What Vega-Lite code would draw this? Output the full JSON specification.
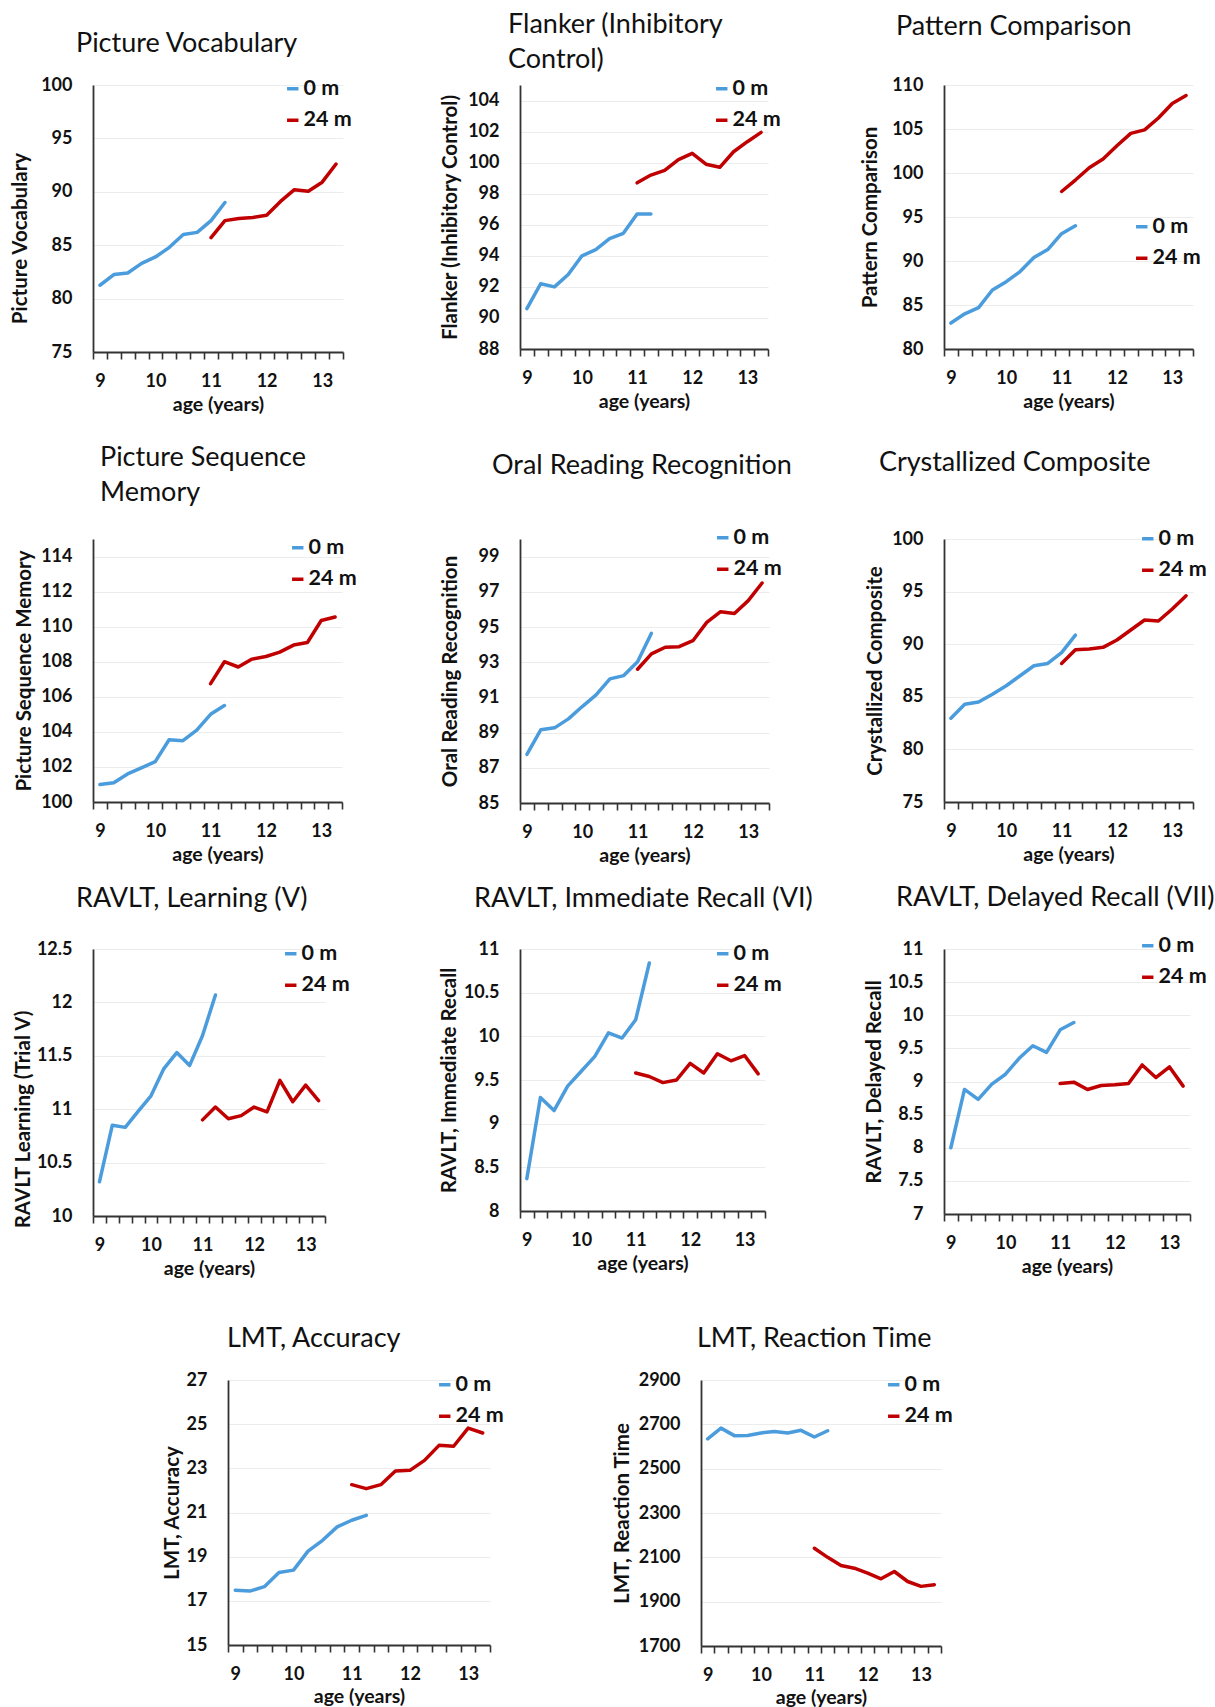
{
"$schema": "https://vega.github.io/schema/vega-lite/v6.json",
"padding": 0,
"background": "white",
"datasets": {"scores": [
{"test":"PV","wave":"0 m","age":9,"score":81.25},{"test":"PV","wave":"0 m","age":9.25,"score":82.25},{"test":"PV","wave":"0 m","age":9.5,"score":82.4},{"test":"PV","wave":"0 m","age":9.75,"score":83.3},{"test":"PV","wave":"0 m","age":10,"score":83.9},{"test":"PV","wave":"0 m","age":10.25,"score":84.8},{"test":"PV","wave":"0 m","age":10.5,"score":86.0},{"test":"PV","wave":"0 m","age":10.75,"score":86.2},{"test":"PV","wave":"0 m","age":11,"score":87.3},{"test":"PV","wave":"0 m","age":11.25,"score":89.0},
{"test":"PV","wave":"24 m","age":11,"score":85.7},{"test":"PV","wave":"24 m","age":11.25,"score":87.3},{"test":"PV","wave":"24 m","age":11.5,"score":87.5},{"test":"PV","wave":"24 m","age":11.75,"score":87.6},{"test":"PV","wave":"24 m","age":12,"score":87.8},{"test":"PV","wave":"24 m","age":12.25,"score":89.1},{"test":"PV","wave":"24 m","age":12.5,"score":90.2},{"test":"PV","wave":"24 m","age":12.75,"score":90.05},{"test":"PV","wave":"24 m","age":13,"score":90.9},{"test":"PV","wave":"24 m","age":13.25,"score":92.6},
{"test":"FL","wave":"0 m","age":9,"score":90.6},{"test":"FL","wave":"0 m","age":9.25,"score":92.2},{"test":"FL","wave":"0 m","age":9.5,"score":92.0},{"test":"FL","wave":"0 m","age":9.75,"score":92.8},{"test":"FL","wave":"0 m","age":10,"score":94.0},{"test":"FL","wave":"0 m","age":10.25,"score":94.4},{"test":"FL","wave":"0 m","age":10.5,"score":95.1},{"test":"FL","wave":"0 m","age":10.75,"score":95.45},{"test":"FL","wave":"0 m","age":11,"score":96.7},{"test":"FL","wave":"0 m","age":11.25,"score":96.7},
{"test":"FL","wave":"24 m","age":11,"score":98.7},{"test":"FL","wave":"24 m","age":11.25,"score":99.2},{"test":"FL","wave":"24 m","age":11.5,"score":99.5},{"test":"FL","wave":"24 m","age":11.75,"score":100.2},{"test":"FL","wave":"24 m","age":12,"score":100.6},{"test":"FL","wave":"24 m","age":12.25,"score":99.9},{"test":"FL","wave":"24 m","age":12.5,"score":99.7},{"test":"FL","wave":"24 m","age":12.75,"score":100.7},{"test":"FL","wave":"24 m","age":13,"score":101.35},{"test":"FL","wave":"24 m","age":13.25,"score":101.95},
{"test":"PC","wave":"0 m","age":9,"score":82.95},{"test":"PC","wave":"0 m","age":9.25,"score":84.0},{"test":"PC","wave":"0 m","age":9.5,"score":84.7},{"test":"PC","wave":"0 m","age":9.75,"score":86.7},{"test":"PC","wave":"0 m","age":10,"score":87.65},{"test":"PC","wave":"0 m","age":10.25,"score":88.8},{"test":"PC","wave":"0 m","age":10.5,"score":90.4},{"test":"PC","wave":"0 m","age":10.75,"score":91.3},{"test":"PC","wave":"0 m","age":11,"score":93.1},{"test":"PC","wave":"0 m","age":11.25,"score":94.0},
{"test":"PC","wave":"24 m","age":11,"score":97.9},{"test":"PC","wave":"24 m","age":11.25,"score":99.2},{"test":"PC","wave":"24 m","age":11.5,"score":100.6},{"test":"PC","wave":"24 m","age":11.75,"score":101.6},{"test":"PC","wave":"24 m","age":12,"score":103.1},{"test":"PC","wave":"24 m","age":12.25,"score":104.5},{"test":"PC","wave":"24 m","age":12.5,"score":104.9},{"test":"PC","wave":"24 m","age":12.75,"score":106.25},{"test":"PC","wave":"24 m","age":13,"score":107.9},{"test":"PC","wave":"24 m","age":13.25,"score":108.8},
{"test":"PSM","wave":"0 m","age":9,"score":101.0},{"test":"PSM","wave":"0 m","age":9.25,"score":101.1},{"test":"PSM","wave":"0 m","age":9.5,"score":101.6},{"test":"PSM","wave":"0 m","age":9.75,"score":101.95},{"test":"PSM","wave":"0 m","age":10,"score":102.3},{"test":"PSM","wave":"0 m","age":10.25,"score":103.55},{"test":"PSM","wave":"0 m","age":10.5,"score":103.5},{"test":"PSM","wave":"0 m","age":10.75,"score":104.1},{"test":"PSM","wave":"0 m","age":11,"score":105.0},{"test":"PSM","wave":"0 m","age":11.25,"score":105.5},
{"test":"PSM","wave":"24 m","age":11,"score":106.75},{"test":"PSM","wave":"24 m","age":11.25,"score":108.0},{"test":"PSM","wave":"24 m","age":11.5,"score":107.7},{"test":"PSM","wave":"24 m","age":11.75,"score":108.15},{"test":"PSM","wave":"24 m","age":12,"score":108.3},{"test":"PSM","wave":"24 m","age":12.25,"score":108.55},{"test":"PSM","wave":"24 m","age":12.5,"score":108.95},{"test":"PSM","wave":"24 m","age":12.75,"score":109.1},{"test":"PSM","wave":"24 m","age":13,"score":110.35},{"test":"PSM","wave":"24 m","age":13.25,"score":110.55},
{"test":"ORR","wave":"0 m","age":9,"score":87.76},{"test":"ORR","wave":"0 m","age":9.25,"score":89.16},{"test":"ORR","wave":"0 m","age":9.5,"score":89.27},{"test":"ORR","wave":"0 m","age":9.75,"score":89.78},{"test":"ORR","wave":"0 m","age":10,"score":90.48},{"test":"ORR","wave":"0 m","age":10.25,"score":91.14},{"test":"ORR","wave":"0 m","age":10.5,"score":92.05},{"test":"ORR","wave":"0 m","age":10.75,"score":92.24},{"test":"ORR","wave":"0 m","age":11,"score":93.03},{"test":"ORR","wave":"0 m","age":11.25,"score":94.64},
{"test":"ORR","wave":"24 m","age":11,"score":92.6},{"test":"ORR","wave":"24 m","age":11.25,"score":93.47},{"test":"ORR","wave":"24 m","age":11.5,"score":93.85},{"test":"ORR","wave":"24 m","age":11.75,"score":93.88},{"test":"ORR","wave":"24 m","age":12,"score":94.22},{"test":"ORR","wave":"24 m","age":12.25,"score":95.26},{"test":"ORR","wave":"24 m","age":12.5,"score":95.87},{"test":"ORR","wave":"24 m","age":12.75,"score":95.77},{"test":"ORR","wave":"24 m","age":13,"score":96.5},{"test":"ORR","wave":"24 m","age":13.25,"score":97.5},
{"test":"CC","wave":"0 m","age":9,"score":82.97},{"test":"CC","wave":"0 m","age":9.25,"score":84.3},{"test":"CC","wave":"0 m","age":9.5,"score":84.5},{"test":"CC","wave":"0 m","age":9.75,"score":85.25},{"test":"CC","wave":"0 m","age":10,"score":86.05},{"test":"CC","wave":"0 m","age":10.25,"score":87.0},{"test":"CC","wave":"0 m","age":10.5,"score":87.95},{"test":"CC","wave":"0 m","age":10.75,"score":88.17},{"test":"CC","wave":"0 m","age":11,"score":89.2},{"test":"CC","wave":"0 m","age":11.25,"score":90.87},
{"test":"CC","wave":"24 m","age":11,"score":88.17},{"test":"CC","wave":"24 m","age":11.25,"score":89.48},{"test":"CC","wave":"24 m","age":11.5,"score":89.54},{"test":"CC","wave":"24 m","age":11.75,"score":89.7},{"test":"CC","wave":"24 m","age":12,"score":90.4},{"test":"CC","wave":"24 m","age":12.25,"score":91.35},{"test":"CC","wave":"24 m","age":12.5,"score":92.3},{"test":"CC","wave":"24 m","age":12.75,"score":92.2},{"test":"CC","wave":"24 m","age":13,"score":93.35},{"test":"CC","wave":"24 m","age":13.25,"score":94.6},
{"test":"RL","wave":"0 m","age":9,"score":10.32},{"test":"RL","wave":"0 m","age":9.25,"score":10.85},{"test":"RL","wave":"0 m","age":9.5,"score":10.83},{"test":"RL","wave":"0 m","age":9.75,"score":10.98},{"test":"RL","wave":"0 m","age":10,"score":11.125},{"test":"RL","wave":"0 m","age":10.25,"score":11.38},{"test":"RL","wave":"0 m","age":10.5,"score":11.53},{"test":"RL","wave":"0 m","age":10.75,"score":11.41},{"test":"RL","wave":"0 m","age":11,"score":11.69},{"test":"RL","wave":"0 m","age":11.25,"score":12.07},
{"test":"RL","wave":"24 m","age":11,"score":10.9},{"test":"RL","wave":"24 m","age":11.25,"score":11.02},{"test":"RL","wave":"24 m","age":11.5,"score":10.91},{"test":"RL","wave":"24 m","age":11.75,"score":10.94},{"test":"RL","wave":"24 m","age":12,"score":11.02},{"test":"RL","wave":"24 m","age":12.25,"score":10.975},{"test":"RL","wave":"24 m","age":12.5,"score":11.27},{"test":"RL","wave":"24 m","age":12.75,"score":11.07},{"test":"RL","wave":"24 m","age":13,"score":11.225},{"test":"RL","wave":"24 m","age":13.25,"score":11.08},
{"test":"RI","wave":"0 m","age":9,"score":8.37},{"test":"RI","wave":"0 m","age":9.25,"score":9.3},{"test":"RI","wave":"0 m","age":9.5,"score":9.15},{"test":"RI","wave":"0 m","age":9.75,"score":9.43},{"test":"RI","wave":"0 m","age":10,"score":9.6},{"test":"RI","wave":"0 m","age":10.25,"score":9.77},{"test":"RI","wave":"0 m","age":10.5,"score":10.04},{"test":"RI","wave":"0 m","age":10.75,"score":9.98},{"test":"RI","wave":"0 m","age":11,"score":10.19},{"test":"RI","wave":"0 m","age":11.25,"score":10.84},
{"test":"RI","wave":"24 m","age":11,"score":9.58},{"test":"RI","wave":"24 m","age":11.25,"score":9.54},{"test":"RI","wave":"24 m","age":11.5,"score":9.47},{"test":"RI","wave":"24 m","age":11.75,"score":9.5},{"test":"RI","wave":"24 m","age":12,"score":9.69},{"test":"RI","wave":"24 m","age":12.25,"score":9.58},{"test":"RI","wave":"24 m","age":12.5,"score":9.8},{"test":"RI","wave":"24 m","age":12.75,"score":9.72},{"test":"RI","wave":"24 m","age":13,"score":9.78},{"test":"RI","wave":"24 m","age":13.25,"score":9.57},
{"test":"RD","wave":"0 m","age":9,"score":8.0},{"test":"RD","wave":"0 m","age":9.25,"score":8.88},{"test":"RD","wave":"0 m","age":9.5,"score":8.73},{"test":"RD","wave":"0 m","age":9.75,"score":8.96},{"test":"RD","wave":"0 m","age":10,"score":9.11},{"test":"RD","wave":"0 m","age":10.25,"score":9.35},{"test":"RD","wave":"0 m","age":10.5,"score":9.54},{"test":"RD","wave":"0 m","age":10.75,"score":9.44},{"test":"RD","wave":"0 m","age":11,"score":9.78},{"test":"RD","wave":"0 m","age":11.25,"score":9.89},
{"test":"RD","wave":"24 m","age":11,"score":8.97},{"test":"RD","wave":"24 m","age":11.25,"score":8.99},{"test":"RD","wave":"24 m","age":11.5,"score":8.88},{"test":"RD","wave":"24 m","age":11.75,"score":8.94},{"test":"RD","wave":"24 m","age":12,"score":8.95},{"test":"RD","wave":"24 m","age":12.25,"score":8.97},{"test":"RD","wave":"24 m","age":12.5,"score":9.25},{"test":"RD","wave":"24 m","age":12.75,"score":9.06},{"test":"RD","wave":"24 m","age":13,"score":9.22},{"test":"RD","wave":"24 m","age":13.25,"score":8.93},
{"test":"LA","wave":"0 m","age":9,"score":17.48},{"test":"LA","wave":"0 m","age":9.25,"score":17.44},{"test":"LA","wave":"0 m","age":9.5,"score":17.64},{"test":"LA","wave":"0 m","age":9.75,"score":18.28},{"test":"LA","wave":"0 m","age":10,"score":18.39},{"test":"LA","wave":"0 m","age":10.25,"score":19.25},{"test":"LA","wave":"0 m","age":10.5,"score":19.74},{"test":"LA","wave":"0 m","age":10.75,"score":20.35},{"test":"LA","wave":"0 m","age":11,"score":20.65},{"test":"LA","wave":"0 m","age":11.25,"score":20.87},
{"test":"LA","wave":"24 m","age":11,"score":22.26},{"test":"LA","wave":"24 m","age":11.25,"score":22.08},{"test":"LA","wave":"24 m","age":11.5,"score":22.26},{"test":"LA","wave":"24 m","age":11.75,"score":22.88},{"test":"LA","wave":"24 m","age":12,"score":22.91},{"test":"LA","wave":"24 m","age":12.25,"score":23.36},{"test":"LA","wave":"24 m","age":12.5,"score":24.04},{"test":"LA","wave":"24 m","age":12.75,"score":24.0},{"test":"LA","wave":"24 m","age":13,"score":24.82},{"test":"LA","wave":"24 m","age":13.25,"score":24.6},
{"test":"LRT","wave":"0 m","age":9,"score":2634},{"test":"LRT","wave":"0 m","age":9.25,"score":2683},{"test":"LRT","wave":"0 m","age":9.5,"score":2649},{"test":"LRT","wave":"0 m","age":9.75,"score":2650},{"test":"LRT","wave":"0 m","age":10,"score":2661},{"test":"LRT","wave":"0 m","age":10.25,"score":2668},{"test":"LRT","wave":"0 m","age":10.5,"score":2661},{"test":"LRT","wave":"0 m","age":10.75,"score":2673},{"test":"LRT","wave":"0 m","age":11,"score":2643},{"test":"LRT","wave":"0 m","age":11.25,"score":2671},
{"test":"LRT","wave":"24 m","age":11,"score":2141},{"test":"LRT","wave":"24 m","age":11.25,"score":2100},{"test":"LRT","wave":"24 m","age":11.5,"score":2063},{"test":"LRT","wave":"24 m","age":11.75,"score":2051},{"test":"LRT","wave":"24 m","age":12,"score":2029},{"test":"LRT","wave":"24 m","age":12.25,"score":2003},{"test":"LRT","wave":"24 m","age":12.5,"score":2036},{"test":"LRT","wave":"24 m","age":12.75,"score":1991},{"test":"LRT","wave":"24 m","age":13,"score":1969},{"test":"LRT","wave":"24 m","age":13.25,"score":1976}
]},
"spacing": 0,
"resolve": {"scale": {"color": "independent"}, "legend": {"color": "independent"}},
"vconcat": [
{
"columns": 6,
"bounds": "flush",
"spacing": 0,
"resolve": {"scale": {"x": "independent", "y": "independent", "color": "independent"}, "legend": {"color": "independent"}, "axis": {"x": "independent", "y": "independent"}},
"concat": [
{"width": 1, "height": 85, "data": {"values": []}, "mark": "point", "encoding": {}},
{"width": 1, "height": 1, "data": {"values": []}, "mark": "point", "encoding": {}},
{"width": 1, "height": 1, "data": {"values": []}, "mark": "point", "encoding": {}},
{"width": 1, "height": 1, "data": {"values": []}, "mark": "point", "encoding": {}},
{"width": 1, "height": 1, "data": {"values": []}, "mark": "point", "encoding": {}},
{"width": 1, "height": 1, "data": {"values": []}, "mark": "point", "encoding": {}},

{"width": 93, "height": 1, "data": {"values": []}, "mark": "point", "encoding": {}},
{"width": 250, "height": 267, "data": {"name": "scores"}, "transform": [{"filter": "datum.test == 'PV'"}],
 "title": {"text": "Picture Vocabulary", "dx": -17, "dy": -14},
 "mark": {"type": "line"},
 "encoding": {
  "x": {"field": "age", "type": "quantitative", "scale": {"domain": [8.875, 13.375], "nice": false, "zero": false}, "axis": {"values": [8.875,9.125,9.375,9.625,9.875,10.125,10.375,10.625,10.875,11.125,11.375,11.625,11.875,12.125,12.375,12.625,12.875,13.125,13.375], "labelExpr": "datum.value % 1 == 0.875 ? format(datum.value + 0.125, 'd') : ''", "labelOffset": 6.94, "title": "age (years)", "titleY": 58}},
  "y": {"field": "score", "type": "quantitative", "scale": {"domain": [75, 100], "nice": false, "zero": false}, "axis": {"values": [75,80,85,90,95,100], "labelExpr": "'' + datum.value", "title": "Picture Vocabulary", "titleX": -73, "titleY": 153}},
  "color": {"field": "wave", "type": "nominal", "scale": {"domain": ["0 m", "24 m"], "range": ["#4b9cdc", "#c00000"]}, "legend": {"title": null, "orient": "none", "legendX": 189, "legendY": -7}}
 }},
{"width": 177, "height": 1, "data": {"values": []}, "mark": "point", "encoding": {}},
{"width": 248, "height": 264, "data": {"name": "scores"}, "transform": [{"filter": "datum.test == 'FL'"}],
 "title": {"text": ["Flanker (Inhibitory", "Control)"], "dx": -12, "dy": 0},
 "mark": {"type": "line"},
 "encoding": {
  "x": {"field": "age", "type": "quantitative", "scale": {"domain": [8.875, 13.375], "nice": false, "zero": false}, "axis": {"values": [8.875,9.125,9.375,9.625,9.875,10.125,10.375,10.625,10.875,11.125,11.375,11.625,11.875,12.125,12.375,12.625,12.875,13.125,13.375], "labelExpr": "datum.value % 1 == 0.875 ? format(datum.value + 0.125, 'd') : ''", "labelOffset": 6.89, "title": "age (years)", "titleY": 58}},
  "y": {"field": "score", "type": "quantitative", "scale": {"domain": [88, 105], "nice": false, "zero": false}, "axis": {"values": [88,90,92,94,96,98,100,102,104], "labelExpr": "'' + datum.value", "title": "Flanker (Inhibitory Control)", "titleX": -70}},
  "color": {"field": "wave", "type": "nominal", "scale": {"domain": ["0 m", "24 m"], "range": ["#4b9cdc", "#c00000"]}, "legend": {"title": null, "orient": "none", "legendX": 191, "legendY": -7}}
 }},
{"width": 175, "height": 1, "data": {"values": []}, "mark": "point", "encoding": {}},
{"width": 249, "height": 264, "data": {"name": "scores"}, "transform": [{"filter": "datum.test == 'PC'"}],
 "title": {"text": "Pattern Comparison", "dx": -48, "dy": -31},
 "mark": {"type": "line"},
 "encoding": {
  "x": {"field": "age", "type": "quantitative", "scale": {"domain": [8.875, 13.375], "nice": false, "zero": false}, "axis": {"values": [8.875,9.125,9.375,9.625,9.875,10.125,10.375,10.625,10.875,11.125,11.375,11.625,11.875,12.125,12.375,12.625,12.875,13.125,13.375], "labelExpr": "datum.value % 1 == 0.875 ? format(datum.value + 0.125, 'd') : ''", "labelOffset": 6.92, "title": "age (years)", "titleY": 58}},
  "y": {"field": "score", "type": "quantitative", "scale": {"domain": [80, 110], "nice": false, "zero": false}, "axis": {"values": [80,85,90,95,100,105,110], "labelExpr": "'' + datum.value", "title": "Pattern Comparison", "titleX": -74}},
  "color": {"field": "wave", "type": "nominal", "scale": {"domain": ["0 m", "24 m"], "range": ["#4b9cdc", "#c00000"]}, "legend": {"title": null, "orient": "none", "legendX": 187, "legendY": 131}}
 }},

{"width": 1, "height": 187, "data": {"values": []}, "mark": "point", "encoding": {}},
{"width": 1, "height": 1, "data": {"values": []}, "mark": "point", "encoding": {}},
{"width": 1, "height": 1, "data": {"values": []}, "mark": "point", "encoding": {}},
{"width": 1, "height": 1, "data": {"values": []}, "mark": "point", "encoding": {}},
{"width": 1, "height": 1, "data": {"values": []}, "mark": "point", "encoding": {}},
{"width": 1, "height": 1, "data": {"values": []}, "mark": "point", "encoding": {}},

{"width": 93, "height": 1, "data": {"values": []}, "mark": "point", "encoding": {}},
{"width": 249, "height": 263, "data": {"name": "scores"}, "transform": [{"filter": "datum.test == 'PSM'"}],
 "title": {"text": ["Picture Sequence", "Memory"], "dx": 7, "dy": -26},
 "mark": {"type": "line"},
 "encoding": {
  "x": {"field": "age", "type": "quantitative", "scale": {"domain": [8.875, 13.375], "nice": false, "zero": false}, "axis": {"values": [8.875,9.125,9.375,9.625,9.875,10.125,10.375,10.625,10.875,11.125,11.375,11.625,11.875,12.125,12.375,12.625,12.875,13.125,13.375], "labelExpr": "datum.value % 1 == 0.875 ? format(datum.value + 0.125, 'd') : ''", "labelOffset": 6.92, "title": "age (years)", "titleY": 58}},
  "y": {"field": "score", "type": "quantitative", "scale": {"domain": [100, 115], "nice": false, "zero": false}, "axis": {"values": [100,102,104,106,108,110,112,114], "labelExpr": "'' + datum.value", "title": "Picture Sequence Memory", "titleX": -69}},
  "color": {"field": "wave", "type": "nominal", "scale": {"domain": ["0 m", "24 m"], "range": ["#4b9cdc", "#c00000"]}, "legend": {"title": null, "orient": "none", "legendX": 194, "legendY": -2}}
 }},
{"width": 177, "height": 1, "data": {"values": []}, "mark": "point", "encoding": {}},
{"width": 249, "height": 264, "data": {"name": "scores"}, "transform": [{"filter": "datum.test == 'ORR'"}],
 "title": {"text": "Oral Reading Recognition", "dx": -28, "dy": -43},
 "mark": {"type": "line"},
 "encoding": {
  "x": {"field": "age", "type": "quantitative", "scale": {"domain": [8.875, 13.375], "nice": false, "zero": false}, "axis": {"values": [8.875,9.125,9.375,9.625,9.875,10.125,10.375,10.625,10.875,11.125,11.375,11.625,11.875,12.125,12.375,12.625,12.875,13.125,13.375], "labelExpr": "datum.value % 1 == 0.875 ? format(datum.value + 0.125, 'd') : ''", "labelOffset": 6.92, "title": "age (years)", "titleY": 58}},
  "y": {"field": "score", "type": "quantitative", "scale": {"domain": [85, 100], "nice": false, "zero": false}, "axis": {"values": [85,87,89,91,93,95,97,99], "labelExpr": "'' + datum.value", "title": "Oral Reading Recognition", "titleX": -70}},
  "color": {"field": "wave", "type": "nominal", "scale": {"domain": ["0 m", "24 m"], "range": ["#4b9cdc", "#c00000"]}, "legend": {"title": null, "orient": "none", "legendX": 192, "legendY": -12}}
 }},
{"width": 175, "height": 1, "data": {"values": []}, "mark": "point", "encoding": {}},
{"width": 249, "height": 263, "data": {"name": "scores"}, "transform": [{"filter": "datum.test == 'CC'"}],
 "title": {"text": "Crystallized Composite", "dx": -65, "dy": -47},
 "mark": {"type": "line"},
 "encoding": {
  "x": {"field": "age", "type": "quantitative", "scale": {"domain": [8.875, 13.375], "nice": false, "zero": false}, "axis": {"values": [8.875,9.125,9.375,9.625,9.875,10.125,10.375,10.625,10.875,11.125,11.375,11.625,11.875,12.125,12.375,12.625,12.875,13.125,13.375], "labelExpr": "datum.value % 1 == 0.875 ? format(datum.value + 0.125, 'd') : ''", "labelOffset": 6.92, "title": "age (years)", "titleY": 58}},
  "y": {"field": "score", "type": "quantitative", "scale": {"domain": [75, 100], "nice": false, "zero": false}, "axis": {"values": [75,80,85,90,95,100], "labelExpr": "'' + datum.value", "title": "Crystallized Composite", "titleX": -69}},
  "color": {"field": "wave", "type": "nominal", "scale": {"domain": ["0 m", "24 m"], "range": ["#4b9cdc", "#c00000"]}, "legend": {"title": null, "orient": "none", "legendX": 193, "legendY": -11}}
 }},

{"width": 1, "height": 146, "data": {"values": []}, "mark": "point", "encoding": {}},
{"width": 1, "height": 1, "data": {"values": []}, "mark": "point", "encoding": {}},
{"width": 1, "height": 1, "data": {"values": []}, "mark": "point", "encoding": {}},
{"width": 1, "height": 1, "data": {"values": []}, "mark": "point", "encoding": {}},
{"width": 1, "height": 1, "data": {"values": []}, "mark": "point", "encoding": {}},
{"width": 1, "height": 1, "data": {"values": []}, "mark": "point", "encoding": {}},

{"width": 93, "height": 1, "data": {"values": []}, "mark": "point", "encoding": {}},
{"width": 232, "height": 267, "data": {"name": "scores"}, "transform": [{"filter": "datum.test == 'RL'"}],
 "title": {"text": "RAVLT, Learning (V)", "dx": -17, "dy": -23},
 "mark": {"type": "line"},
 "encoding": {
  "x": {"field": "age", "type": "quantitative", "scale": {"domain": [8.875, 13.375], "nice": false, "zero": false}, "axis": {"values": [8.875,9.125,9.375,9.625,9.875,10.125,10.375,10.625,10.875,11.125,11.375,11.625,11.875,12.125,12.375,12.625,12.875,13.125,13.375], "labelExpr": "datum.value % 1 == 0.875 ? format(datum.value + 0.125, 'd') : ''", "labelOffset": 6.44, "title": "age (years)", "titleY": 58}},
  "y": {"field": "score", "type": "quantitative", "scale": {"domain": [10, 12.5], "nice": false, "zero": false}, "axis": {"values": [10,10.5,11,11.5,12,12.5], "labelExpr": "'' + datum.value", "title": "RAVLT Learning (Trial V)", "titleX": -70, "titleY": 170}},
  "color": {"field": "wave", "type": "nominal", "scale": {"domain": ["0 m", "24 m"], "range": ["#4b9cdc", "#c00000"]}, "legend": {"title": null, "orient": "none", "legendX": 187, "legendY": -6}}
 }},
{"width": 177, "height": 1, "data": {"values": []}, "mark": "point", "encoding": {}},
{"width": 245, "height": 262, "data": {"name": "scores"}, "transform": [{"filter": "datum.test == 'RI'"}],
 "title": {"text": "RAVLT, Immediate Recall (VI)", "dx": -46, "dy": -23},
 "mark": {"type": "line"},
 "encoding": {
  "x": {"field": "age", "type": "quantitative", "scale": {"domain": [8.875, 13.375], "nice": false, "zero": false}, "axis": {"values": [8.875,9.125,9.375,9.625,9.875,10.125,10.375,10.625,10.875,11.125,11.375,11.625,11.875,12.125,12.375,12.625,12.875,13.125,13.375], "labelExpr": "datum.value % 1 == 0.875 ? format(datum.value + 0.125, 'd') : ''", "labelOffset": 6.81, "title": "age (years)", "titleY": 58}},
  "y": {"field": "score", "type": "quantitative", "scale": {"domain": [8, 11], "nice": false, "zero": false}, "axis": {"values": [8,8.5,9,9.5,10,10.5,11], "labelExpr": "'' + datum.value", "title": "RAVLT, Immediate Recall", "titleX": -71}},
  "color": {"field": "wave", "type": "nominal", "scale": {"domain": ["0 m", "24 m"], "range": ["#4b9cdc", "#c00000"]}, "legend": {"title": null, "orient": "none", "legendX": 192, "legendY": -6}}
 }},
{"width": 175, "height": 1, "data": {"values": []}, "mark": "point", "encoding": {}},
{"width": 246, "height": 265, "data": {"name": "scores"}, "transform": [{"filter": "datum.test == 'RD'"}],
 "title": {"text": "RAVLT, Delayed Recall (VII)", "dx": -48, "dy": -19},
 "mark": {"type": "line"},
 "encoding": {
  "x": {"field": "age", "type": "quantitative", "scale": {"domain": [8.875, 13.375], "nice": false, "zero": false}, "axis": {"values": [8.875,9.125,9.375,9.625,9.875,10.125,10.375,10.625,10.875,11.125,11.375,11.625,11.875,12.125,12.375,12.625,12.875,13.125,13.375], "labelExpr": "datum.value % 1 == 0.875 ? format(datum.value + 0.125, 'd') : ''", "labelOffset": 6.83, "title": "age (years)", "titleY": 58}},
  "y": {"field": "score", "type": "quantitative", "scale": {"domain": [7, 11], "nice": false, "zero": false}, "axis": {"values": [7,7.5,8,8.5,9,9.5,10,10.5,11], "labelExpr": "'' + datum.value", "title": "RAVLT, Delayed Recall", "titleX": -70}},
  "color": {"field": "wave", "type": "nominal", "scale": {"domain": ["0 m", "24 m"], "range": ["#4b9cdc", "#c00000"]}, "legend": {"title": null, "orient": "none", "legendX": 193, "legendY": -14}}
 }},

{"width": 1, "height": 70, "data": {"values": []}, "mark": "point", "encoding": {}}
]
},
{
"columns": 4,
"bounds": "flush",
"spacing": 0,
"resolve": {"scale": {"x": "independent", "y": "independent", "color": "independent"}, "legend": {"color": "independent"}, "axis": {"x": "independent", "y": "independent"}},
"concat": [
{"width": 1, "height": 94, "data": {"values": []}, "mark": "point", "encoding": {}},
{"width": 1, "height": 1, "data": {"values": []}, "mark": "point", "encoding": {}},
{"width": 1, "height": 1, "data": {"values": []}, "mark": "point", "encoding": {}},
{"width": 1, "height": 1, "data": {"values": []}, "mark": "point", "encoding": {}},

{"width": 228, "height": 1, "data": {"values": []}, "mark": "point", "encoding": {}},
{"width": 262, "height": 265, "data": {"name": "scores"}, "transform": [{"filter": "datum.test == 'LA'"}],
 "title": {"text": "LMT, Accuracy", "dx": -1, "dy": -14},
 "mark": {"type": "line"},
 "encoding": {
  "x": {"field": "age", "type": "quantitative", "scale": {"domain": [8.875, 13.375], "nice": false, "zero": false}, "axis": {"values": [8.875,9.125,9.375,9.625,9.875,10.125,10.375,10.625,10.875,11.125,11.375,11.625,11.875,12.125,12.375,12.625,12.875,13.125,13.375], "labelExpr": "datum.value % 1 == 0.875 ? format(datum.value + 0.125, 'd') : ''", "labelOffset": 7.28, "title": "age (years)", "titleY": 57}},
  "y": {"field": "score", "type": "quantitative", "scale": {"domain": [15, 27], "nice": false, "zero": false}, "axis": {"values": [15,17,19,21,23,25,27], "labelExpr": "'' + datum.value", "title": "LMT, Accuracy", "titleX": -56}},
  "color": {"field": "wave", "type": "nominal", "scale": {"domain": ["0 m", "24 m"], "range": ["#4b9cdc", "#c00000"]}, "legend": {"title": null, "orient": "none", "legendX": 206, "legendY": -6}}
 }},
{"width": 211, "height": 1, "data": {"values": []}, "mark": "point", "encoding": {}},
{"width": 240, "height": 266, "data": {"name": "scores"}, "transform": [{"filter": "datum.test == 'LRT'"}],
 "title": {"text": "LMT, Reaction Time", "dx": -4, "dy": -14},
 "mark": {"type": "line"},
 "encoding": {
  "x": {"field": "age", "type": "quantitative", "scale": {"domain": [8.875, 13.375], "nice": false, "zero": false}, "axis": {"values": [8.875,9.125,9.375,9.625,9.875,10.125,10.375,10.625,10.875,11.125,11.375,11.625,11.875,12.125,12.375,12.625,12.875,13.125,13.375], "labelExpr": "datum.value % 1 == 0.875 ? format(datum.value + 0.125, 'd') : ''", "labelOffset": 6.67, "title": "age (years)", "titleY": 57}},
  "y": {"field": "score", "type": "quantitative", "scale": {"domain": [1700, 2900], "nice": false, "zero": false}, "axis": {"values": [1700,1900,2100,2300,2500,2700,2900], "labelExpr": "'' + datum.value", "title": "LMT, Reaction Time", "titleX": -79}},
  "color": {"field": "wave", "type": "nominal", "scale": {"domain": ["0 m", "24 m"], "range": ["#4b9cdc", "#c00000"]}, "legend": {"title": null, "orient": "none", "legendX": 182, "legendY": -6}}
 }}
]
}
],
"config": {
 "view": {"stroke": null},
 "font": "Lato",
 "line": {"strokeWidth": 3.5, "strokeJoin": "round", "strokeCap": "round"},
 "point": {"opacity": 0},
 "axis": {"domainColor": "#333333", "domainWidth": 1.8, "tickColor": "#333333", "tickWidth": 1.6, "labelFont": "Lato", "labelFontWeight": "bold", "labelFontSize": 18, "labelColor": "#111111", "titleFont": "Lato", "titleFontWeight": "bold", "titleFontSize": 21, "titleColor": "#111111", "gridColor": "#ececec", "gridWidth": 1},
 "axisX": {"grid": false, "tickSize": 7, "labelBaseline": "alphabetic", "labelPadding": 27, "labelOverlap": false, "labelFlush": false, "labelBound": false, "titleBaseline": "alphabetic", "titleFontSize": 19.5},
 "axisY": {"grid": true, "ticks": false, "labelPadding": 21, "titleBaseline": "middle", "titleFontSize": 20.5},
 "legend": {"symbolType": "stroke", "symbolStrokeWidth": 3.5, "symbolSize": 130, "labelFont": "Lato", "labelFontSize": 21.5, "labelFontWeight": "bold", "labelColor": "#111111", "labelOffset": 0, "rowPadding": 8.5, "padding": 0},
 "title": {"font": "Lato", "fontSize": 27, "fontWeight": "normal", "color": "#111111", "anchor": "start", "frame": "group", "offset": 0, "lineHeight": 35}
}
}
